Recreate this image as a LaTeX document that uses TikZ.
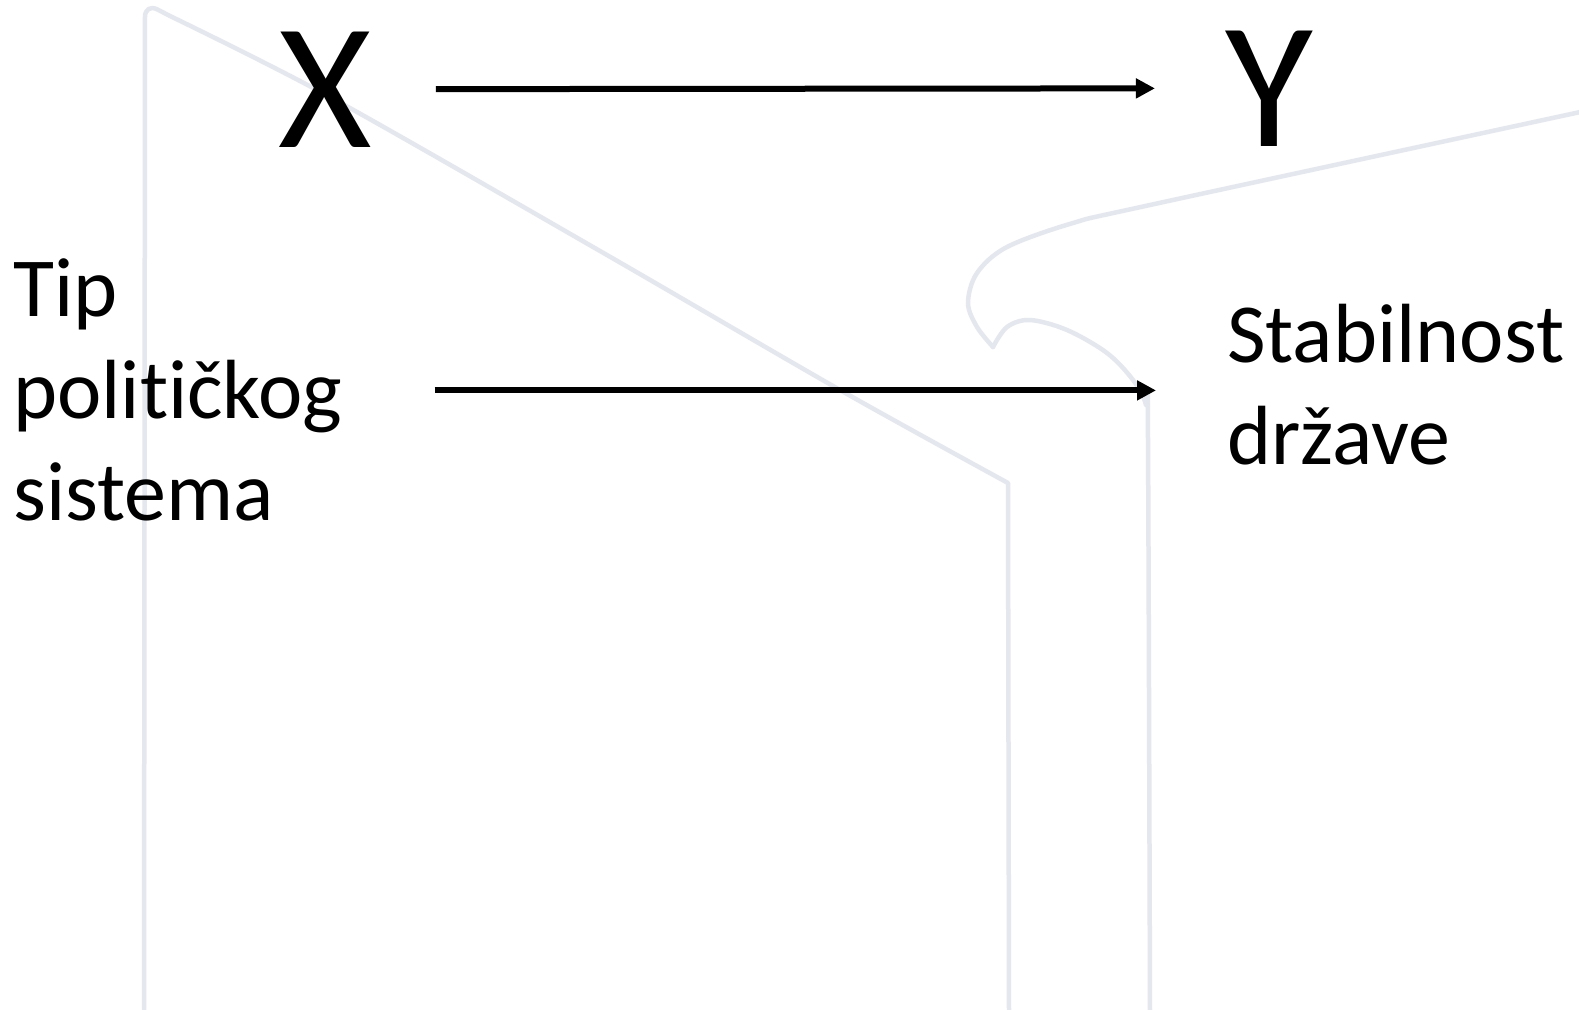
\documentclass[tikz,border=0pt]{standalone}
\usepackage{fontspec}
\setmainfont{Carlito}[Ligatures=NoCommon,RawFeature={-liga;-dlig;-clig;-calt}]
\usetikzlibrary{arrows.meta}
\definecolor{bgline}{RGB}{229,231,238}
\begin{document}
\begin{tikzpicture}[x=1pt,y=-1pt,
  bgl/.style={draw=bgline,line width=4.5pt,line join=round,line cap=round},
  arr/.style={line width=6pt,-{Triangle[length=19pt,width=19pt]}},
  big/.style={font=\fontsize{180}{216}\selectfont,inner sep=0pt},
  lbl/.style={font=\fontsize{84}{102}\selectfont,inner sep=0pt,align=left}]
\useasboundingbox (0,0) rectangle (1579,1009);
\fill[white] (0,0) rectangle (1579,1009);
% background outline
\draw[bgl] (144,1015) [rounded corners=14] -- (145,3) [sharp corners] -- (170,16)
  -- plot[smooth,tension=0.5] coordinates {(170,16) (330,97) (600,251) (840,390) (1008,483)}
  -- (1009,1015);
\draw[bgl] plot[smooth,tension=0.55] coordinates {(1585,111) (1150,205) (1073,223) (1007,247) (977,273) (968,303) (977,327) (993,347)};
\draw[bgl] plot[smooth,tension=0.55] coordinates {(993,347) (1007,327) (1030,320) (1067,330) (1107,353) (1133,380) (1146,405) (1148,440) (1150,1015)};
% texts
\node[big,anchor=base] (X) at (325,147) {X};
\node[big,anchor=base] (Y) at (1269,146) {Y};
\node[lbl,anchor=north west] (L) at (13,259) {Tip\\polit\kern0pt ičkog\\sistema};
\node[lbl,anchor=north west] (R) at (1227,304) {Stabilnost\\države};
% arrows
\draw[arr,shorten <=64pt,shorten >=70pt] (X) -- (Y);
\draw[arr] ([xshift=92pt]L.east) -- ([xshift=-71pt]L.east -| R.west);
\end{tikzpicture}
\end{document}
